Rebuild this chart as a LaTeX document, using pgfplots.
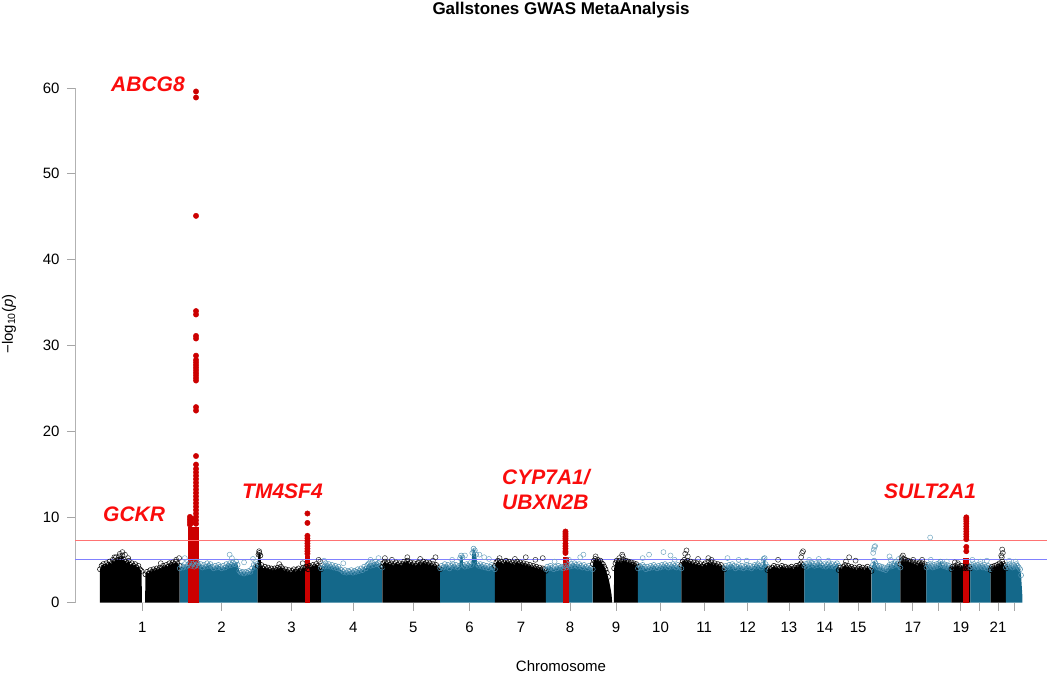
\documentclass[border=0pt]{standalone}
\usepackage{pgfplots}
\pgfplotsset{compat=1.18}
\usepackage{pgfplotstable}
\usepackage{fontspec}
\setmainfont{Liberation Sans}
\definecolor{chrblue}{RGB}{20,104,138}
\definecolor{halo}{RGB}{80,145,178}
\definecolor{hitred}{RGB}{204,0,0}
\definecolor{labred}{RGB}{250,12,12}

% ---- chromosome profiles (cumulative position in Mb, top of dense cloud) ----
\pgfplotstableread{
x y
0 3.9
5 4.3
10 4.5
15 4.2
20 4.6
25 4.4
30 4.8
35 4.5
40 5.0
45 4.7
50 5.3
55 5.0
60 5.4
65 5.1
70 5.5
75 5.0
80 4.8
85 4.6
90 4.9
95 4.4
100 4.6
105 4.3
110 4.5
115 4.1
120 4.3
125 3.9
130 3.7
131 0
141 0
142 3.3
147 3.6
152 3.4
157 3.8
162 3.6
167 3.9
172 3.7
177 4.0
182 3.8
187 4.1
192 4.0
197 4.3
202 4.1
207 4.4
212 4.2
217 4.6
222 4.4
227 4.7
232 4.5
237 4.8
242 4.6
249 4.3
}\chra
\pgfplotstableread{
x y
249.3 4.0
255 4.3
260 4.1
265 4.5
270 4.2
275 4.4
280 4.6
285 4.3
290 4.5
295 4.2
300 4.4
305 4.6
310 4.3
315 4.5
320 4.1
325 4.4
330 4.2
335 4.6
340 4.3
345 4.5
350 4.2
355 4.0
360 4.3
365 4.1
370 4.4
375 4.2
380 4.0
385 4.3
390 4.1
395 4.5
400 4.3
405 4.6
410 4.4
415 4.7
420 4.5
425 4.8
430 4.4
435 3.7
440 3.5
445 3.6
450 3.4
455 3.6
460 3.5
465 3.7
470 3.6
475 4.0
480 4.4
485 4.2
490 4.5
492.4 4.3
}\chrb
\pgfplotstableread{
x y
492.5 4.3
495 5.6
498 5.8
501 5.5
504 4.4
510 4.0
515 4.2
520 3.9
525 4.1
530 3.8
535 4.0
540 3.7
545 4.0
550 3.8
555 4.1
560 3.9
565 4.2
570 4.0
575 3.7
580 3.9
585 3.6
590 3.8
595 3.5
600 3.7
605 3.9
610 3.6
615 3.8
620 4.0
625 3.7
630 3.9
635 4.1
640 4.0
645 4.2
650 3.9
655 4.3
660 4.1
665 4.4
670 4.2
675 4.5
680 4.3
685 4.1
690.4 3.9
}\chrc
\pgfplotstableread{
x y
690.5 4.0
695 4.4
700 4.2
705 4.6
710 4.3
715 4.5
720 4.2
725 4.4
730 4.1
735 4.3
740 4.0
745 4.2
750 3.9
755 3.8
760 3.6
765 3.8
770 3.5
775 3.7
780 3.6
785 3.8
790 3.5
795 3.7
800 3.6
805 3.9
810 3.7
815 4.0
820 3.8
825 4.2
830 4.0
835 4.4
840 4.6
845 4.3
850 4.7
855 4.4
860 4.8
865 4.5
870 4.6
875 4.3
881.6 4.1
}\chrd
\pgfplotstableread{
x y
881.7 4.2
885 4.6
890 4.8
895 4.5
900 4.7
905 4.4
910 4.6
915 4.3
920 4.5
925 4.7
930 4.4
935 4.6
940 4.3
945 4.5
950 4.8
955 4.6
960 4.9
965 4.5
970 4.7
975 4.4
980 4.6
985 4.3
990 4.5
995 4.7
1000 4.4
1005 4.6
1010 4.8
1015 4.5
1020 4.7
1025 4.4
1030 4.6
1035 4.3
1040 4.5
1045 4.2
1050 4.4
1055 4.1
1062.5 3.9
}\chre
\pgfplotstableread{
x y
1062.6 4.0
1067 4.3
1072 4.1
1077 4.5
1082 4.2
1087 4.4
1092 4.0
1097 4.3
1102 4.5
1107 4.2
1112 4.4
1117 4.1
1122 4.3
1125 5.2
1128 5.5
1132 5.3
1135 4.4
1140 4.2
1145 4.5
1150 4.3
1155 4.6
1160 4.4
1163 5.8
1167 6.3
1171 6.1
1175 5.6
1178 4.5
1183 4.3
1188 4.5
1193 4.2
1198 4.4
1203 4.1
1208 4.3
1213 4.0
1218 4.2
1223 4.4
1228 4.1
1233.6 3.9
}\chrf
\pgfplotstableread{
x y
1233.7 4.3
1238 4.7
1243 4.9
1248 4.6
1253 4.8
1258 4.5
1263 4.7
1268 4.9
1273 4.6
1278 4.8
1283 4.5
1288 4.7
1293 4.4
1298 4.6
1303 4.8
1308 4.5
1313 4.7
1318 4.4
1323 4.6
1328 4.3
1333 4.5
1338 4.2
1343 4.4
1348 4.1
1353 4.3
1358 4.0
1363 4.2
1368 3.9
1373 4.1
1378 3.8
1383 4.0
1388 3.9
1392.8 3.7
}\chrg
\pgfplotstableread{
x y
1392.8 3.9
1397 4.2
1402 4.0
1407 4.3
1412 4.1
1417 3.9
1422 4.2
1427 4.0
1432 4.3
1437 4.1
1442 4.2
1447 4.0
1452 4.3
1457 4.1
1462 4.4
1467 4.2
1472 4.5
1477 4.3
1482 4.6
1487 4.4
1492 4.2
1497 4.5
1502 4.3
1507 4.1
1512 4.4
1517 4.2
1522 4.0
1527 4.3
1532 4.1
1539.1 3.9
}\chrh
\pgfplotstableread{
x y
1539.2 4.5
1543 4.9
1547 5.1
1551 4.8
1555 5.0
1559 4.7
1563 4.9
1567 4.6
1571 4.5
1575 4.2
1579 3.9
1583 3.5
1587 3.0
1591 2.4
1595 1.6
1598 0.9
1600 0
1605 0
1606 4.0
1610 4.6
1614 4.9
1619 4.7
1623 4.9
1627 4.6
1631 4.8
1635 5.0
1639 4.7
1643 4.9
1647 4.6
1651 4.8
1655 4.5
1659 4.7
1663 4.4
1667 4.6
1671 4.3
1675 4.5
1680.3 4.2
}\chri
\pgfplotstableread{
x y
1680.4 4.0
1685 4.3
1690 4.1
1695 4.4
1700 4.2
1705 3.9
1710 4.2
1715 4.0
1720 4.3
1725 4.1
1730 4.4
1735 4.2
1740 4.0
1745 4.3
1750 4.1
1755 4.4
1760 4.2
1765 4.5
1770 4.3
1775 4.1
1780 4.4
1785 4.2
1790 4.5
1795 4.3
1800 4.1
1805 4.4
1810 4.2
1815.9 4.0
}\chrj
\pgfplotstableread{
x y
1815.9 4.4
1820 4.8
1825 5.0
1830 4.7
1835 4.9
1840 4.6
1845 4.8
1850 4.5
1855 4.7
1860 4.4
1865 4.6
1870 4.3
1875 4.5
1880 4.2
1885 4.4
1890 4.6
1895 4.3
1900 4.8
1905 4.5
1910 4.7
1915 4.4
1920 4.6
1925 4.3
1930 4.5
1935 4.2
1940 4.4
1945 4.1
1950.9 3.9
}\chrk
\pgfplotstableread{
x y
1950.9 4.0
1955 4.3
1960 4.1
1965 4.4
1970 4.2
1975 4.5
1980 4.3
1985 4.0
1990 4.2
1995 4.4
2000 4.1
2005 4.3
2010 4.0
2015 4.2
2020 4.4
2025 4.1
2030 4.3
2035 4.0
2040 4.2
2045 4.4
2050 4.2
2055 4.5
2060 4.3
2065 4.1
2070 4.4
2073 5.1
2076 5.2
2079 4.5
2084.7 4.2
}\chrl
\pgfplotstableread{
x y
2084.8 3.8
2090 4.0
2095 3.9
2100 4.1
2105 4.3
2110 4.0
2115 4.2
2120 3.9
2125 4.1
2130 4.3
2135 4.0
2140 4.2
2145 3.9
2150 4.1
2155 4.0
2160 4.2
2165 3.9
2170 4.1
2175 4.3
2180 4.1
2185 4.4
2190 4.6
2195 4.4
2199.9 4.2
}\chrm
\pgfplotstableread{
x y
2200 4.3
2204 4.5
2207 4.2
2212 4.6
2217 4.4
2222 4.7
2227 4.5
2232 4.3
2237 4.6
2242 4.4
2247 4.7
2252 4.5
2257 4.3
2262 4.5
2267 4.2
2272 4.4
2277 4.6
2282 4.3
2287 4.5
2292 4.2
2297 4.4
2302 4.6
2307.2 4.3
}\chrn
\pgfplotstableread{
x y
2307.3 3.8
2312 4.1
2317 3.9
2322 4.2
2327 4.4
2332 4.1
2337 4.3
2342 4.0
2347 4.2
2352 3.9
2357 4.1
2362 3.8
2367 4.0
2372 4.2
2377 3.9
2382 4.1
2387 3.8
2392 4.0
2397 4.2
2402 3.9
2409.8 3.7
}\chro
\pgfplotstableread{
x y
2409.9 4.1
2414 4.4
2418 4.9
2422 4.6
2426 4.3
2430 4.1
2434 4.3
2438 4.0
2442 4.2
2446 3.9
2450 4.1
2454 3.8
2458 4.0
2462 4.2
2466 4.4
2470 4.2
2474 4.5
2478 4.3
2482 4.6
2486 4.8
2490 4.5
2495 4.3
2500.1 4.1
}\chrp
\pgfplotstableread{
x y
2500.2 4.5
2504 4.9
2508 5.1
2512 4.8
2516 5.0
2520 4.7
2524 4.9
2528 4.6
2532 4.8
2536 4.5
2540 4.7
2544 4.4
2548 4.6
2552 4.3
2556 4.5
2560 4.7
2564 4.4
2568 4.6
2572 4.3
2576 4.5
2581.3 4.2
}\chrq
\pgfplotstableread{
x y
2581.4 4.1
2585 4.4
2589 4.2
2593 4.5
2597 4.3
2601 4.1
2605 4.4
2609 4.2
2613 4.5
2617 4.3
2621 4.6
2625 4.8
2629 4.5
2633 4.3
2637 4.5
2641 4.2
2645 4.4
2649 4.1
2653 4.3
2659.4 4.0
}\chrr
\pgfplotstableread{
x y
2659.5 3.9
2663 4.2
2667 4.0
2671 4.3
2675 4.1
2679 4.4
2683 4.2
2687 4.0
2691 4.3
2695 4.1
2699 4.0
2703 4.2
2707 4.0
2711 4.1
2715 4.2
2718.5 4.0
}\chrs
\pgfplotstableread{
x y
2718.6 4.1
2722 4.4
2726 4.2
2730 4.5
2734 4.3
2738 4.1
2742 4.4
2746 4.2
2750 4.5
2754 4.3
2758 4.1
2762 4.4
2766 4.2
2770 4.0
2774 4.3
2778 4.1
2781.5 3.9
}\chrt
\pgfplotstableread{
x y
2781.6 3.8
2786 4.2
2790 4.0
2794 4.3
2798 4.1
2802 4.4
2806 4.2
2810 4.6
2814 4.4
2818 4.8
2822 4.5
2826 4.3
2829.7 4.0
}\chru
\pgfplotstableread{
x y
2829.8 4.1
2834 4.4
2838 4.2
2842 4.5
2846 4.3
2850 4.1
2854 4.4
2858 4.2
2862 4.5
2866 4.3
2870 4.1
2874 3.9
2877 3.2
2879 2.0
2881 0.8
}\chrv

% ---- isolated open circles above the dense cloud ----
\pgfplotstableread{
x y
45 5.3
62 5.7
70 5.9
78 5.6
88 5.2
190 4.6
238 5.0
247 5.2
497 6.0
560 4.5
633 4.6
683 5.0
688 4.8
890 5.2
912 5.0
960 5.3
1000 5.1
1040 4.9
1048 5.3
1248 5.2
1296 5.1
1330 5.3
1360 5.0
1383 5.2
1548 5.4
1622 5.2
1631 5.6
1633 5.4
1828 5.7
1832 6.1
1836 5.4
1868 5.1
1900 5.2
1910 5.0
2118 5.0
2190 5.3
2193 5.8
2196 6.0
2330 4.8
2340 5.3
2360 4.9
2504 5.3
2508 5.5
2512 5.1
2540 5.0
2568 5.0
2670 4.7
2680 4.6
2815 5.5
2818 6.2
2820 5.8
2817 5.3
}\blackout
\pgfplotstableread{
x y
265 5.2
300 4.8
405 5.6
412 5.2
450 4.7
478 5.1
485 4.8
700 4.9
760 4.6
845 5.0
870 5.2
1100 5.0
1140 5.5
1168 6.0
1185 5.6
1200 5.3
1215 5.1
1420 4.8
1465 5.0
1500 5.3
1510 5.6
1695 5.2
1715 5.6
1760 5.9
1782 5.5
1795 5.0
1960 5.2
1995 5.0
2020 4.9
2060 4.8
2215 5.0
2245 5.1
2275 4.9
2415 5.8
2417 6.2
2419 6.5
2421 6.6
2466 5.4
2470 5.0
2495 5.1
2595 5.0
2593 7.6
2645 4.8
2725 5.0
2750 4.8
2770 4.9
2840 4.9
2860 4.8
}\blueout

% ---- highlighted loci ----
\pgfplotstableread{
x y
300 59.6
300 58.9
300 45.1
300 34.0
300 33.6
300 31.1
300 30.8
300 28.8
300 28.3
300 28.0
300 27.7
300 27.4
300 27.1
300 26.8
300 26.5
300 26.2
300 25.9
300 22.8
300 22.4
300 17.1
300 16.1
300 15.6
300 15.2
300 14.8
300 14.4
300 14.0
300 13.6
300 13.2
300 12.8
300 12.4
300 12.0
300 11.6
300 11.2
300 10.8
300 10.4
300 10.0
300 9.6
300 9.2
281 10.0
281 9.7
281 9.4
281 9.1
286 9.8
286 9.3
648 10.4
648 9.3
648 7.8
648 7.5
648 7.2
648 6.9
648 6.6
648 6.3
648 6.0
648 5.7
1454 8.3
1454 8.1
1454 7.9
1454 7.7
1454 7.5
1454 7.3
1454 6.9
1454 6.6
1454 6.3
1454 6.0
1454 5.8
2706 9.95
2706 9.75
2706 9.5
2706 9.2
2706 8.9
2706 8.6
2706 8.3
2706 8.0
2706 7.7
2706 7.4
2706 6.5
2706 6.0
}\hits

\begin{document}
\begin{tikzpicture}[x=1pt,y=1pt]
\path[use as bounding box] (0,0) rectangle (1050,674);
\begin{axis}[
  at={(75pt,71.3pt)}, anchor=south west,
  scale only axis, width=972pt, height=536.1pt,
  xmin=-78, xmax=2958, ymin=0, ymax=62.5,
  clip=false,
  axis x line*=bottom, axis y line*=left,
  axis line style={draw=none},
  tick align=outside, major tick length=8pt,
  tick style={gray!70, line width=0.8pt},
  xtick={132,380,598,791,979,1154,1315,1468,1612,1751,1887,2023,2152,2264,2368,2454,2539,2620,2689,2746,2805,2855},
  xticklabels={1,2,3,4,5,6,7,8,9,10,11,12,13,14,15,{},17,{},19,{},21,{}},
  ytick={0,10,20,30,40,50,60},
  minor tick num=0,
  /pgf/number format/assume math mode=true,
  ticklabel style={font=\fontsize{15}{18}\selectfont, text=black},
  xticklabel shift=8pt,
  yticklabel shift=4pt,
]
% y axis line
\draw[gray!60, line width=0.9pt] (axis cs:-78,0) -- (axis cs:-78,60);

% dense clouds
\addplot[fill=black, draw=none] table {\chra} \closedcycle;
\addplot[fill=chrblue, draw=none] table {\chrb} \closedcycle;
\addplot[fill=black, draw=none] table {\chrc} \closedcycle;
\addplot[fill=chrblue, draw=none] table {\chrd} \closedcycle;
\addplot[fill=black, draw=none] table {\chre} \closedcycle;
\addplot[fill=chrblue, draw=none] table {\chrf} \closedcycle;
\addplot[fill=black, draw=none] table {\chrg} \closedcycle;
\addplot[fill=chrblue, draw=none] table {\chrh} \closedcycle;
\addplot[fill=black, draw=none] table {\chri} \closedcycle;
\addplot[fill=chrblue, draw=none] table {\chrj} \closedcycle;
\addplot[fill=black, draw=none] table {\chrk} \closedcycle;
\addplot[fill=chrblue, draw=none] table {\chrl} \closedcycle;
\addplot[fill=black, draw=none] table {\chrm} \closedcycle;
\addplot[fill=chrblue, draw=none] table {\chrn} \closedcycle;
\addplot[fill=black, draw=none] table {\chro} \closedcycle;
\addplot[fill=chrblue, draw=none] table {\chrp} \closedcycle;
\addplot[fill=black, draw=none] table {\chrq} \closedcycle;
\addplot[fill=chrblue, draw=none] table {\chrr} \closedcycle;
\addplot[fill=black, draw=none] table {\chrs} \closedcycle;
\addplot[fill=chrblue, draw=none] table {\chrt} \closedcycle;
\addplot[fill=black, draw=none] table {\chru} \closedcycle;
\addplot[fill=chrblue, draw=none] table {\chrv} \closedcycle;

% circle texture on top edges
\pgfplotsset{bk/.style={only marks, mark=o, mark size=2.5pt, draw=black, line width=0.5pt, restrict y to domain=2.5:100},
             bl/.style={only marks, mark=o, mark size=2.5pt, draw=halo, line width=0.5pt, restrict y to domain=2.5:100}}
\addplot[bk] table {\chra};
\addplot[bl] table {\chrb};
\addplot[bk] table {\chrc};
\addplot[bl] table {\chrd};
\addplot[bk] table {\chre};
\addplot[bl] table {\chrf};
\addplot[bk] table {\chrg};
\addplot[bl] table {\chrh};
\addplot[bk] table {\chri};
\addplot[bl] table {\chrj};
\addplot[bk] table {\chrk};
\addplot[bl] table {\chrl};
\addplot[bk] table {\chrm};
\addplot[bl] table {\chrn};
\addplot[bk] table {\chro};
\addplot[bl] table {\chrp};
\addplot[bk] table {\chrq};
\addplot[bl] table {\chrr};
\addplot[bk] table {\chrs};
\addplot[bl] table {\chrt};
\addplot[bk] table {\chru};
\addplot[bl] table {\chrv};
\addplot[bk, draw=black!85] table {\blackout};
\addplot[bl, draw=halo!80] table {\blueout};

% highlighted loci
\addplot[fill=hitred, draw=none] coordinates {(274,8.8) (309,8.8)} \closedcycle;
\addplot[fill=hitred, draw=none] coordinates {(640,5.4) (656,5.4)} \closedcycle;
\addplot[fill=hitred, draw=none] coordinates {(1445,5.3) (1464,5.3)} \closedcycle;
\addplot[fill=hitred, draw=none] coordinates {(2697,5.2) (2715,5.2)} \closedcycle;
\addplot[only marks, mark=*, mark size=2.7pt, hitred] table {\hits};

% thresholds
\addplot[red!55, line width=0.8pt] coordinates {(-78,7.3) (2958,7.3)};
\addplot[blue!50, line width=0.8pt] coordinates {(-78,5) (2958,5)};
\end{axis}

% titles and gene labels
\node[font=\fontsize{17}{20}\selectfont\bfseries] at (561,664) {Gallstones GWAS MetaAnalysis};
\node[font=\fontsize{15}{18}\selectfont] at (561,8) {Chromosome};
\node[font=\fontsize{15}{18}\selectfont, rotate=90] at (9,350) {−log\textsubscript{10}(\textit{p})};
\begin{scope}[every node/.style={font=\fontsize{21}{25}\selectfont\bfseries\itshape, text=labred, anchor=base west, inner sep=0pt}]
\node at (111,582.3) {ABCG8};
\node at (103,152.3) {GCKR};
\node at (242,175) {TM4SF4};
\node at (502,189) {CYP7A1/};
\node at (502,164) {UBXN2B};
\node at (884,175) {SULT2A1};
\end{scope}
\end{tikzpicture}
\end{document}
